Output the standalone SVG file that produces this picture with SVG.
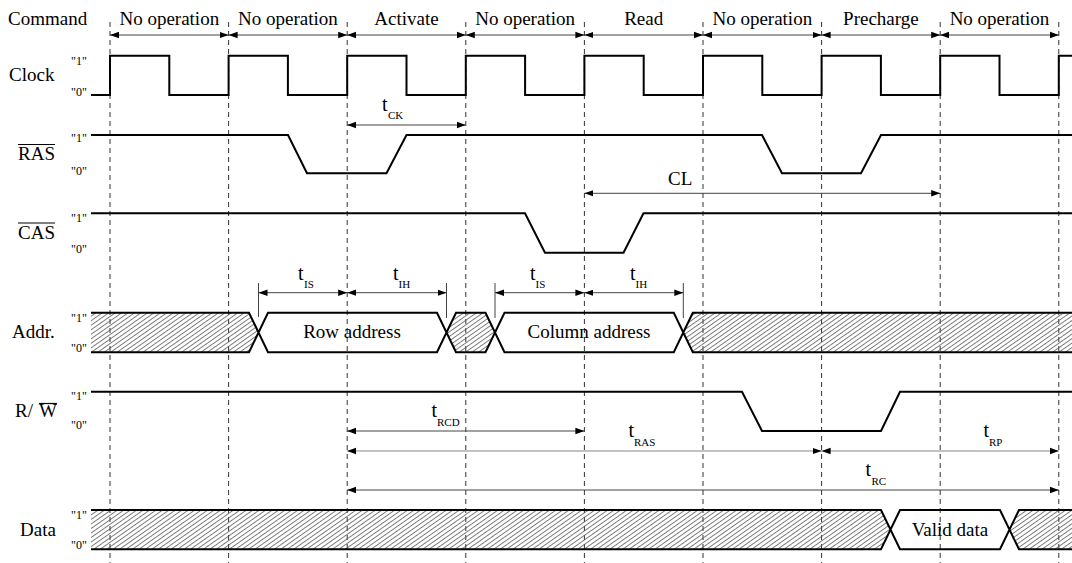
<svg xmlns="http://www.w3.org/2000/svg" width="1072" height="563" viewBox="0 0 1072 563">
<style>
text{font-family:"Liberation Serif","Times New Roman",serif;fill:#000}
.lbl{font-size:19px}
.cmd{font-size:19px;text-anchor:middle}
.lvl{font-size:12px}
.t{font-size:20px}
.sub{font-size:11px}
.sig{fill:none;stroke:#000;stroke-width:2;stroke-linejoin:miter}
.grid{stroke:#333;stroke-width:1;stroke-dasharray:5,4}
.arr{stroke:#444;stroke-width:1;fill:none;marker-start:url(#ah);marker-end:url(#ah)}
.arrL{stroke:#888;stroke-width:1.2;fill:none;marker-start:url(#ah);marker-end:url(#ah)}
.tick{stroke:#444;stroke-width:1}
.ov{stroke:#000;stroke-width:1.2}
.hatch{fill:url(#hp);stroke:none}
</style>
<defs>
<marker id="ah" markerUnits="userSpaceOnUse" markerWidth="10" markerHeight="8" refX="9" refY="4" orient="auto-start-reverse">
<path d="M0,0.8 L9,4 L0,7.2 Z" fill="#000"/>
</marker>
<pattern id="hp" patternUnits="userSpaceOnUse" width="10" height="3.7" patternTransform="rotate(-35)">
<line x1="0" y1="0.5" x2="10" y2="0.5" stroke="#555" stroke-width="0.8"/>
</pattern>
</defs>
<rect width="1072" height="563" fill="#fff"/>

<g id="grid">
<line class="grid" x1="110" y1="22" x2="110" y2="563"/>
<line class="grid" x1="228.6" y1="22" x2="228.6" y2="563"/>
<line class="grid" x1="347.2" y1="22" x2="347.2" y2="563"/>
<line class="grid" x1="465.8" y1="22" x2="465.8" y2="563"/>
<line class="grid" x1="584.4" y1="22" x2="584.4" y2="563"/>
<line class="grid" x1="703" y1="22" x2="703" y2="563"/>
<line class="grid" x1="821.6" y1="22" x2="821.6" y2="563"/>
<line class="grid" x1="940.2" y1="22" x2="940.2" y2="563"/>
<line class="grid" x1="1058.8" y1="22" x2="1058.8" y2="563"/>
</g>

<g id="labels">
<text class="lbl" x="8" y="25">Command</text>
<text class="lbl" x="9" y="81">Clock</text>
<text class="lbl" x="18" y="160">RAS</text>
<line class="ov" x1="18" y1="144.5" x2="55" y2="144.5"/>
<text class="lbl" x="18" y="238.5">CAS</text>
<line class="ov" x1="18" y1="223" x2="55" y2="223"/>
<text class="lbl" x="12" y="338">Addr.</text>
<text class="lbl" x="15" y="416.5">R/</text>
<text class="lbl" x="39" y="416.5">W</text>
<line class="ov" x1="39" y1="403.5" x2="57" y2="403.5"/>
<text class="lbl" x="20" y="535.5">Data</text>
</g>

<g id="levels">
<text class="lvl" x="71" y="65">"1"</text><text class="lvl" x="71" y="96">"0"</text>
<text class="lvl" x="71" y="142">"1"</text><text class="lvl" x="71" y="175">"0"</text>
<text class="lvl" x="71" y="222">"1"</text><text class="lvl" x="71" y="252.5">"0"</text>
<text class="lvl" x="71" y="321.5">"1"</text><text class="lvl" x="71" y="352">"0"</text>
<text class="lvl" x="71" y="400">"1"</text><text class="lvl" x="71" y="429">"0"</text>
<text class="lvl" x="71" y="519">"1"</text><text class="lvl" x="71" y="549">"0"</text>
</g>

<g id="commands">
<text class="cmd" x="169.3" y="25">No operation</text>
<text class="cmd" x="287.9" y="25">No operation</text>
<text class="cmd" x="406.5" y="25">Activate</text>
<text class="cmd" x="525.1" y="25">No operation</text>
<text class="cmd" x="643.7" y="25">Read</text>
<text class="cmd" x="762.3" y="25">No operation</text>
<text class="cmd" x="880.9" y="25">Precharge</text>
<text class="cmd" x="999.5" y="25">No operation</text>
</g>

<g id="connectors">
<line class="arr" x1="110" y1="35" x2="228.6" y2="35"/>
<line class="arr" x1="228.6" y1="35" x2="347.2" y2="35"/>
<line class="arr" x1="347.2" y1="35" x2="465.8" y2="35"/>
<line class="arr" x1="465.8" y1="35" x2="584.4" y2="35"/>
<line class="arr" x1="584.4" y1="35" x2="703" y2="35"/>
<line class="arr" x1="703" y1="35" x2="821.6" y2="35"/>
<line class="arr" x1="821.6" y1="35" x2="940.2" y2="35"/>
<line class="arr" x1="940.2" y1="35" x2="1058.8" y2="35"/>
<line class="arr" x1="347.2" y1="125" x2="465.8" y2="125"/>
<line class="arr" x1="584.4" y1="193.3" x2="940.2" y2="193.3"/>
<line class="tick" x1="258.5" y1="283" x2="258.5" y2="317"/>
<line class="tick" x1="446.5" y1="283" x2="446.5" y2="318"/>
<line class="tick" x1="495" y1="283" x2="495" y2="318"/>
<line class="tick" x1="683.3" y1="283" x2="683.3" y2="318"/>
<line class="arr" x1="258.5" y1="292.7" x2="347.2" y2="292.7"/>
<line class="arr" x1="347.2" y1="292.7" x2="446.5" y2="292.7"/>
<line class="arr" x1="495" y1="292.7" x2="584.4" y2="292.7"/>
<line class="arr" x1="584.4" y1="292.7" x2="683.3" y2="292.7"/>
<line class="arr" x1="347.2" y1="431" x2="584.4" y2="431"/>
<line class="arrL" x1="347.2" y1="451" x2="821.6" y2="451"/>
<line class="arrL" x1="821.6" y1="451" x2="1058.8" y2="451"/>
<line class="arr" x1="347.2" y1="490" x2="1058.8" y2="490"/>
</g>

<g id="timing-labels">
<text class="t" x="382" y="111">t</text><text class="sub" x="388" y="119">CK</text>
<text class="lbl" x="668" y="185">CL</text>
<text class="t" x="298" y="280">t</text><text class="sub" x="304" y="288">IS</text>
<text class="t" x="393" y="280">t</text><text class="sub" x="398.5" y="288">IH</text>
<text class="t" x="530" y="280">t</text><text class="sub" x="535.5" y="288">IS</text>
<text class="t" x="630" y="280">t</text><text class="sub" x="635.5" y="288">IH</text>
<text class="t" x="431.5" y="417">t</text><text class="sub" x="437" y="426">RCD</text>
<text class="t" x="628.5" y="437">t</text><text class="sub" x="634" y="446">RAS</text>
<text class="t" x="983.5" y="437">t</text><text class="sub" x="989" y="446">RP</text>
<text class="t" x="865.5" y="476">t</text><text class="sub" x="871.5" y="485">RC</text>
</g>

<g id="clock">
<path class="sig" d="M91,95 H110 V55.7 H169.3 V95 H228.6 V55.7 H287.9 V95 H347.2 V55.7 H406.5 V95 H465.8 V55.7 H525.1 V95 H584.4 V55.7 H643.7 V95 H703 V55.7 H762.3 V95 H821.6 V55.7 H880.9 V95 H940.2 V55.7 H999.5 V95 H1058.8 V55.7 H1072"/>
</g>
<g id="ras">
<path class="sig" d="M91,135 H288 L307,173.3 H386.5 L406.5,135 H762 L782,173.3 H861 L881,135 H1072"/>
</g>
<g id="cas">
<path class="sig" d="M91,213.3 H525 L545,252.7 H623.5 L643.5,213.3 H1072"/>
</g>
<g id="addr">
<polygon class="hatch" points="91,312.7 249,312.7 258.5,332.5 249,352.3 91,352.3"/>
<polygon class="hatch" points="446.5,332.5 456,312.7 485.5,312.7 495,332.5 485.5,352.3 456,352.3"/>
<polygon class="hatch" points="683.3,332.5 692.8,312.7 1072,312.7 1072,352.3 692.8,352.3"/>
<path class="sig" d="M91,312.7 H249 L268,352.3 H437 L456,312.7 H485.5 L504.5,352.3 H673.8 L692.8,312.7 H1072 M91,352.3 H249 L268,312.7 H437 L456,352.3 H485.5 L504.5,312.7 H673.8 L692.8,352.3 H1072"/>
<text class="cmd" x="352" y="338">Row address</text>
<text class="cmd" x="589" y="338">Column address</text>
</g>
<g id="rw">
<path class="sig" d="M91,391.7 H742 L762,431 H881 L900,391.7 H1072"/>
</g>
<g id="data">
<polygon class="hatch" points="91,510 881,510 890.5,529.7 881,549.3 91,549.3"/>
<polygon class="hatch" points="1009.5,529.7 1019,510 1072,510 1072,549.3 1019,549.3"/>
<path class="sig" d="M91,510 H881 L900,549.3 H1000 L1019,510 H1072 M91,549.3 H881 L900,510 H1000 L1019,549.3 H1072"/>
<text class="cmd" x="950" y="536">Valid data</text>
</g>
</svg>
